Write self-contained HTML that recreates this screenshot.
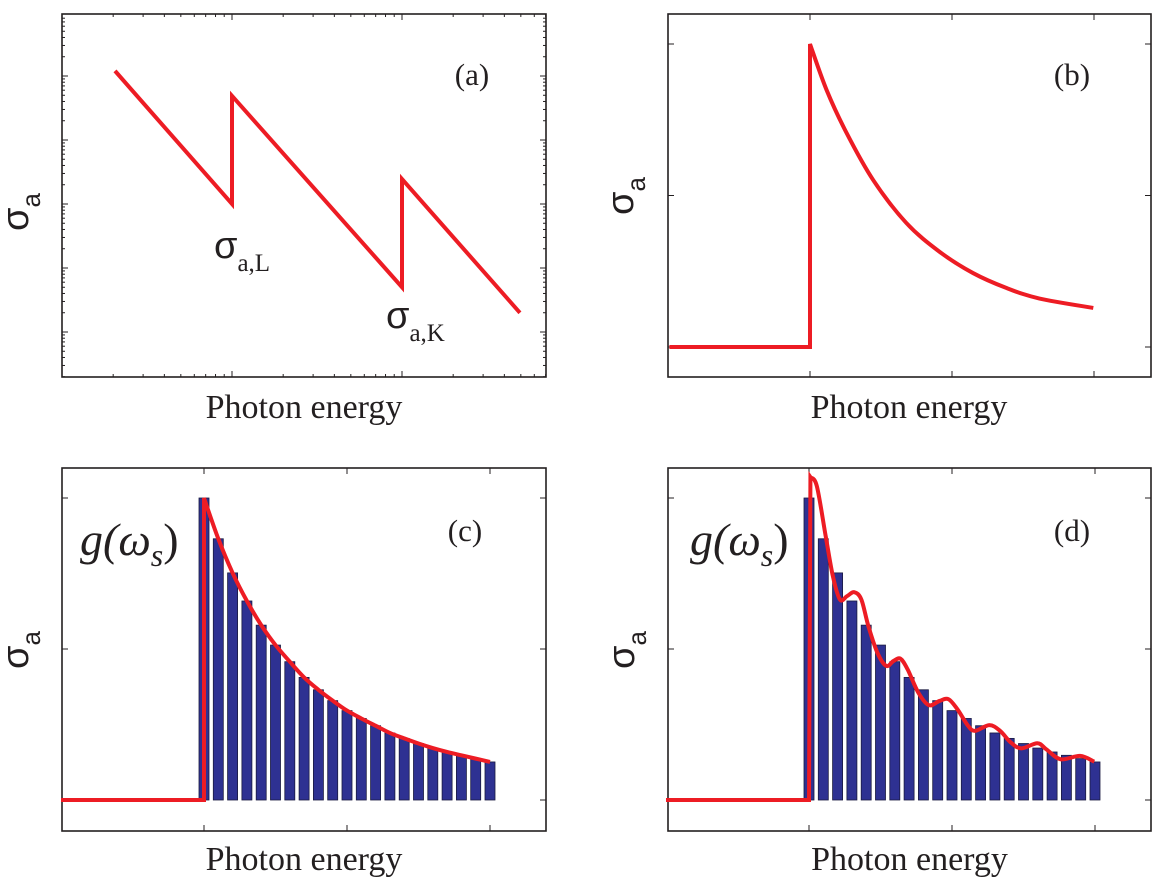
<!DOCTYPE html>
<html><head><meta charset="utf-8"><style>
html,body{margin:0;padding:0;background:#fff}
svg{display:block}
text{font-family:"Liberation Serif","DejaVu Serif",serif;fill:#231f20}
</style></head><body>
<svg id="fig" width="1155" height="888" viewBox="0 0 1155 888" xmlns="http://www.w3.org/2000/svg">
<g id="pa"></g>
<g id="pb"></g>
<g id="pc"></g>
<g id="pd"></g>
</svg>
<script>
// Panel (a): log-log sawtooth (log10 energy, log10 sigma)
const aEnergy = [2.05, 10, 10, 100, 100, 494];
const aSigmaLog = [4.08, 2.0, 3.69, 0.70, 2.39, 0.30];
// Panel (b): edge decay curve
const bX = [-0.99, 0, 0, 0.117, 0.258, 0.445, 0.679, 0.913, 1.148, 1.382, 1.616, 1.995];
const bY = [0, 0, 1.0, 0.848, 0.706, 0.551, 0.409, 0.314, 0.244, 0.195, 0.160, 0.129];
// Bars for (c),(d)
const barX = [0,0.1,0.2,0.3,0.4,0.5,0.6,0.7,0.8,0.9,1.0,1.1,1.2,1.3,1.4,1.5,1.6,1.7,1.8,1.9,2.0];
const barVals = [1.0,0.865,0.752,0.659,0.579,0.513,0.458,0.406,0.365,0.329,0.296,0.270,0.246,0.222,0.204,0.187,0.172,0.159,0.148,0.137,0.126];
// Panel (d): oscillating curve
const dX = [0.01,0.055,0.117,0.167,0.216,0.266,0.316,0.366,0.415,0.478,0.540,0.590,0.639,0.689,0.764,0.838,0.913,0.975,1.037,1.112,1.162,1.261,1.336,1.410,1.485,1.597,1.659,1.759,1.896,1.995];
const dY = [1.069,1.039,0.873,0.741,0.664,0.675,0.688,0.664,0.576,0.488,0.444,0.460,0.468,0.433,0.356,0.314,0.328,0.334,0.301,0.246,0.229,0.248,0.229,0.191,0.171,0.188,0.168,0.135,0.146,0.127];

const NS="http://www.w3.org/2000/svg";
const RED="#ed1c24", AX="#231f20";
function mk(tag, attrs, parent){const e=document.createElementNS(NS,tag);for(const k in attrs)e.setAttribute(k,attrs[k]);parent.appendChild(e);return e;}

function smoothPath(pts){
  let d="M"+pts[0][0]+","+pts[0][1];
  for(let i=0;i<pts.length-1;i++){
    const p0=pts[Math.max(0,i-1)],p1=pts[i],p2=pts[i+1],p3=pts[Math.min(pts.length-1,i+2)];
    const c1=[p1[0]+(p2[0]-p0[0])/6,p1[1]+(p2[1]-p0[1])/6];
    const c2=[p2[0]-(p3[0]-p1[0])/6,p2[1]-(p3[1]-p1[1])/6];
    d+=" C"+c1[0].toFixed(2)+","+c1[1].toFixed(2)+" "+c2[0].toFixed(2)+","+c2[1].toFixed(2)+" "+p2[0].toFixed(2)+","+p2[1].toFixed(2);
  }
  return d;
}

function frame(g,x1,y1,x2,y2){
  const r=mk('rect',{x:x1,y:y1,width:x2-x1,height:y2-y1,fill:'none',stroke:AX,'stroke-width':1.6},g);
  
  
}
function tick(g,x1,y1,x2,y2,name){
  const l=mk('line',{x1:x1,y1:y1,x2:x2,y2:y2,stroke:AX,'stroke-width':1},g);
  
  
}
function xlabel(g,cx,y){
  const t=mk('text',{x:cx,y:y,'font-size':34,'text-anchor':'middle'},g);
  t.textContent='Photon energy';
  
  
}
function ylabel(g,cx,cy){
  const t=mk('text',{transform:'translate('+cx+','+cy+') rotate(-90)','font-size':38,'text-anchor':'middle'},g);
  
  
  t.innerHTML='<tspan font-family="Liberation Sans, sans-serif">σ</tspan><tspan font-family="Liberation Sans, sans-serif" font-size="26" dy="12">a</tspan>';
}
function plabel(g,x,y,s){
  const t=mk('text',{x:x,y:y,'font-size':31,'text-anchor':'middle'},g);
  t.textContent=s;
  
  
}
function gLabel(g,x,y){
  const t=mk('text',{x:x,y:y,'font-size':46,'font-style':'italic'},g);
  t.innerHTML='g(ω<tspan font-size="32" dy="11">s</tspan><tspan dy="-11" font-style="normal">)</tspan>';
  
  
}

// ---- Panel (a) ----
(function(){
  const g=document.getElementById('pa');
  const L=62,R=546,T=14,B=377;
  const xs=v=>L+170*Math.log10(v);
  const ys=v=>332-64*v;
  for(let dec=0;dec<3;dec++)for(let m=1;m<10;m++){
    const v=Math.pow(10,dec)*m;const x=xs(v);if(x<=L+1||x>=R)continue;
    const len=m===1?6:3;
    tick(g,x,B,x,B-len,'x-tick');tick(g,x,T,x,T+len,'x-tick');
  }
  for(let dec=-1;dec<5;dec++)for(let m=1;m<10;m++){
    const y=ys(dec+Math.log10(m));if(y<=T+1||y>=B)continue;
    const len=m===1?6:3;
    tick(g,L,y,L+len,y,'y-tick');tick(g,R,y,R-len,y,'y-tick');
  }
  frame(g,L,T,R,B);
  const pts=aEnergy.map((e,i)=>xs(e).toFixed(2)+","+ys(aSigmaLog[i]).toFixed(2));
  const p=mk('polyline',{points:pts.join(' '),fill:'none',stroke:RED,'stroke-width':4,'stroke-linejoin':'miter'},g);
  
  
  xlabel(g,304,418);ylabel(g,28,212);plabel(g,472,85,'(a)');
  const s1=mk('text',{x:214,y:258,'font-size':38},g);
  s1.innerHTML='<tspan font-family="Liberation Sans, sans-serif">σ</tspan><tspan font-size="25" dy="13">a,L</tspan>';
  
  
  const s2=mk('text',{x:386,y:328,'font-size':38},g);
  s2.innerHTML='<tspan font-family="Liberation Sans, sans-serif">σ</tspan><tspan font-size="25" dy="13">a,K</tspan>';
  
  
})();

function linPanel(id,L,T,R,B,x0,xu,y0,yu){
  const g=document.getElementById(id);
  const xs=v=>x0+xu*v, ys=v=>y0-yu*v;
  [0,1,2].forEach(v=>{tick(g,xs(v),B,xs(v),B-6,'x-tick');tick(g,xs(v),T,xs(v),T+6,'x-tick');});
  [0,0.5,1].forEach(v=>{tick(g,L,ys(v),L+6,ys(v),'y-tick');tick(g,R,ys(v),R-6,ys(v),'y-tick');});
  frame(g,L,T,R,B);
  return {g,xs,ys};
}

// ---- Panel (b) ----
(function(){
  const {g,xs,ys}=linPanel('pb',668,14,1151,377,810,142,347,303);
  const step=[[xs(bX[0]),ys(bY[0])],[xs(bX[1]),ys(bY[1])],[xs(bX[2]),ys(bY[2])]];
  const curve=bX.slice(2).map((x,i)=>[xs(x),ys(bY[i+2])]);
  const d="M"+step[0].join(',')+" L"+step[1].join(',')+" L"+step[2].join(',')+" "+smoothPath(curve).replace(/^M[^ ]+/,'');
  const p=mk('path',{d:d,fill:'none',stroke:RED,'stroke-width':4},g);
  
  
  xlabel(g,909,418);ylabel(g,633,196);plabel(g,1072,85,'(b)');
})();

function barPanel(id,L,T,R,B,x0,curveX,curveY,lbl,lx,gx){
  const {g,xs,ys}=linPanel(id,L,T,R,B,x0,143,800,302);
  barX.forEach((x,i)=>{
    const w=0.07*143;
    const r=mk('rect',{x:xs(x)-w/2,y:ys(barVals[i]),width:w,height:ys(0)-ys(barVals[i]),fill:'#2e3192',stroke:'#1a1a40','stroke-width':0.8},g);
    
    
  });
  const curve=curveX.map((x,i)=>[xs(x),ys(curveY[i])]);
  const d="M"+xs(-1)+","+ys(0)+" L"+xs(0)+","+ys(0)+" L"+curve[0][0].toFixed(2)+","+curve[0][1].toFixed(2)+" "+smoothPath(curve).replace(/^M[^ ]+/,'');
  const p=mk('path',{d:d,fill:'none',stroke:RED,'stroke-width':4},g);
  
  
  xlabel(g,(L+R)/2,870);ylabel(g,L-34,650);plabel(g,lx,541,lbl);gLabel(g,gx,555);
}
barPanel('pc',62,468,546,831,204,barX,barVals,'(c)',465,80);
barPanel('pd',668,468,1151,831,809,dX,dY,'(d)',1072,690);
</script>
</body></html>
